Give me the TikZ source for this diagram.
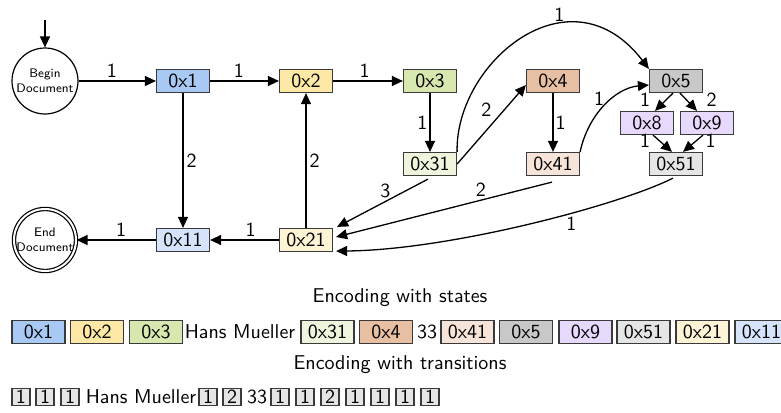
\documentclass[tikz,border=0pt]{standalone}
\usetikzlibrary{arrows.meta,calc}
\definecolor{cA}{HTML}{A9C9F5}
\definecolor{cB}{HTML}{FDE9A5}
\definecolor{cC}{HTML}{D8E6B0}
\definecolor{cD}{HTML}{E7BFA3}
\definecolor{cE}{HTML}{C8C8C8}
\definecolor{cF}{HTML}{E6D9FB}
\definecolor{cG}{HTML}{E5E5E5}
\definecolor{cH}{HTML}{EFF5DD}
\definecolor{cI}{HTML}{F7E4D8}
\definecolor{cJ}{HTML}{FDF3D5}
\definecolor{cK}{HTML}{D6E4FB}
\definecolor{bord}{HTML}{3A3A3A}
\begin{document}
\begin{tikzpicture}[x=0.5pt,y=-0.5pt,font=\sffamily,
  box/.style={draw=bord,line width=0.6pt,minimum width=26.5pt,minimum height=11.5pt,inner sep=0pt},
  tbox/.style={draw=bord,fill=cG,line width=0.6pt,minimum width=9pt,minimum height=8.5pt,inner sep=0pt},
  circ/.style={circle,draw,line width=0.6pt,inner sep=0pt,align=center,font=\sffamily\fontsize{6.2}{7.4}\selectfont},
  edge/.style={line width=0.65pt,-{Triangle[length=5.5pt,width=5pt]}},
  lab/.style={font=\sffamily,inner sep=1.5pt},
  txt/.style={font=\sffamily,inner sep=0pt}]
\useasboundingbox (0,0) rectangle (781,412);
% states
\node[circ,minimum size=33pt] (begin) at (45,81) {Begin\\Document};
\node[circ,double,double distance=1pt,minimum size=31pt] (end) at (45,240) {End\\Document};
\coordinate (start) at (45,20);
\node[box,fill=cA] (n1) at (183,81) {0x1};
\node[box,fill=cB] (n2) at (306,81) {0x2};
\node[box,fill=cC] (n3) at (430,81) {0x3};
\node[box,fill=cD] (n4) at (553,81) {0x4};
\node[box,fill=cE] (n5) at (676,81) {0x5};
\node[box,fill=cF] (n8) at (647,123) {0x8};
\node[box,fill=cF] (n9) at (707,123) {0x9};
\node[box,fill=cG] (n51) at (676,164) {0x51};
\node[box,fill=cH] (n31) at (430,164) {0x31};
\node[box,fill=cI] (n41) at (553,164) {0x41};
\node[box,fill=cJ] (n21) at (306,240) {0x21};
\node[box,fill=cK] (n11) at (183,240) {0x11};
% edges
\draw[edge] (start) -- (begin);
\draw[edge] (begin) -- node[lab,above,pos=0.43]{1} (n1);
\draw[edge] (n1) -- node[lab,above,pos=0.42]{1} (n2);
\draw[edge] (n2) -- node[lab,above,pos=0.45]{1} (n3);
\draw[edge] (n3) -- node[lab,left,inner sep=1pt]{1} (n31);
\draw[edge] (n4) -- node[lab,right,inner sep=1pt]{1} (n41);
\draw[edge] (n1) -- node[lab,right]{2} (n11);
\draw[edge] (n21) -- node[lab,right]{2} (n2);
\draw[edge] (n21) -- node[lab,above,pos=0.41]{1} (n11);
\draw[edge] (n11) -- node[lab,above,pos=0.44]{1} (end);
\draw[edge] (n31.east) -- node[lab,above left,pos=0.55,inner sep=1.5pt]{2} ($(n4.west)+(0,4)$);
\draw[edge] (n31.north east) .. controls (455,63) and (570,-34) .. node[lab,above,pos=0.65]{1} (n5.north west);
\draw[edge] (n41.north east) .. controls (588,115) and (615,88) .. node[lab,above left,pos=0.5,inner sep=0pt]{1} ($(n5.west)+(0,4)$);
\draw[edge] ($(n5.south)+(-3,0)$) -- node[lab,left=8pt,pos=0.35,inner sep=0pt]{1} ($(n8.north)+(8,0)$);
\draw[edge] ($(n5.south)+(4,0)$) -- node[lab,right=10pt,pos=0.35,inner sep=0pt]{2} ($(n9.north)+(-10,0)$);
\draw[edge] ($(n8.south)+(6,0)$) -- node[lab,left=4.5pt,pos=0.35,inner sep=0pt]{1} ($(n51.north)+(-4,0)$);
\draw[edge] ($(n9.south)+(-4,0)$) -- node[lab,right=4.5pt,pos=0.35,inner sep=0pt]{1} ($(n51.north)+(7,0)$);
\draw[edge] ($(n31.south)+(-2,3)$) -- node[lab,above,pos=0.47]{3} ($(n21.north east)+(4,-1)$);
\draw[edge] ($(n41.south)+(-1,6)$) -- node[lab,above,pos=0.33]{2} ($(n21.east)+(3,-3)$);
\draw[edge] ($(n51.south)+(-3,2)$) .. controls (620,205) and (450,250) .. node[lab,below,pos=0.38]{1} ($(n21.south east)+(3,-1)$);
% encoding with states
\node[txt] (h1) at (400,298) {Encoding with states};
\node[box,fill=cA] (s1) at (38.5,332) {0x1};
\node[box,fill=cB] (s2) at (97,332) {0x2};
\node[box,fill=cC] (s3) at (156,332) {0x3};
\node[txt] (sh) at (240,332) {Hans Mueller};
\node[box,fill=cH] (s31) at (327.5,332) {0x31};
\node[box,fill=cD] (s4) at (386,332) {0x4};
\node[txt] (s33) at (427,332) {33};
\node[box,fill=cI] (s41) at (467.5,332) {0x41};
\node[box,fill=cE] (s5) at (526,332) {0x5};
\node[box,fill=cF] (s9) at (585.5,332) {0x9};
\node[box,fill=cG] (s51) at (643.5,332) {0x51};
\node[box,fill=cJ] (s21) at (702.5,332) {0x21};
\node[box,fill=cK] (s11) at (761.5,332) {0x11};
% encoding with transitions
\node[txt] (h2) at (400,365) {Encoding with transitions};
\node[tbox] (t1) at (21,397) {1};
\node[tbox] (t2) at (45,397) {1};
\node[tbox] (t3) at (70,397) {1};
\node[txt] (th) at (141,397) {Hans Mueller};
\node[tbox] (t4) at (208,397) {1};
\node[tbox] (t5) at (232,397) {2};
\node[txt] (t33) at (257,397) {33};
\node[tbox] (t6) at (280,397) {1};
\node[tbox] (t7) at (305,397) {1};
\node[tbox] (t8) at (330,397) {2};
\node[tbox] (t9) at (355,397) {1};
\node[tbox] (t10) at (380,397) {1};
\node[tbox] (t11) at (405,397) {1};
\node[tbox] (t12) at (430,397) {1};
\end{tikzpicture}
\end{document}
